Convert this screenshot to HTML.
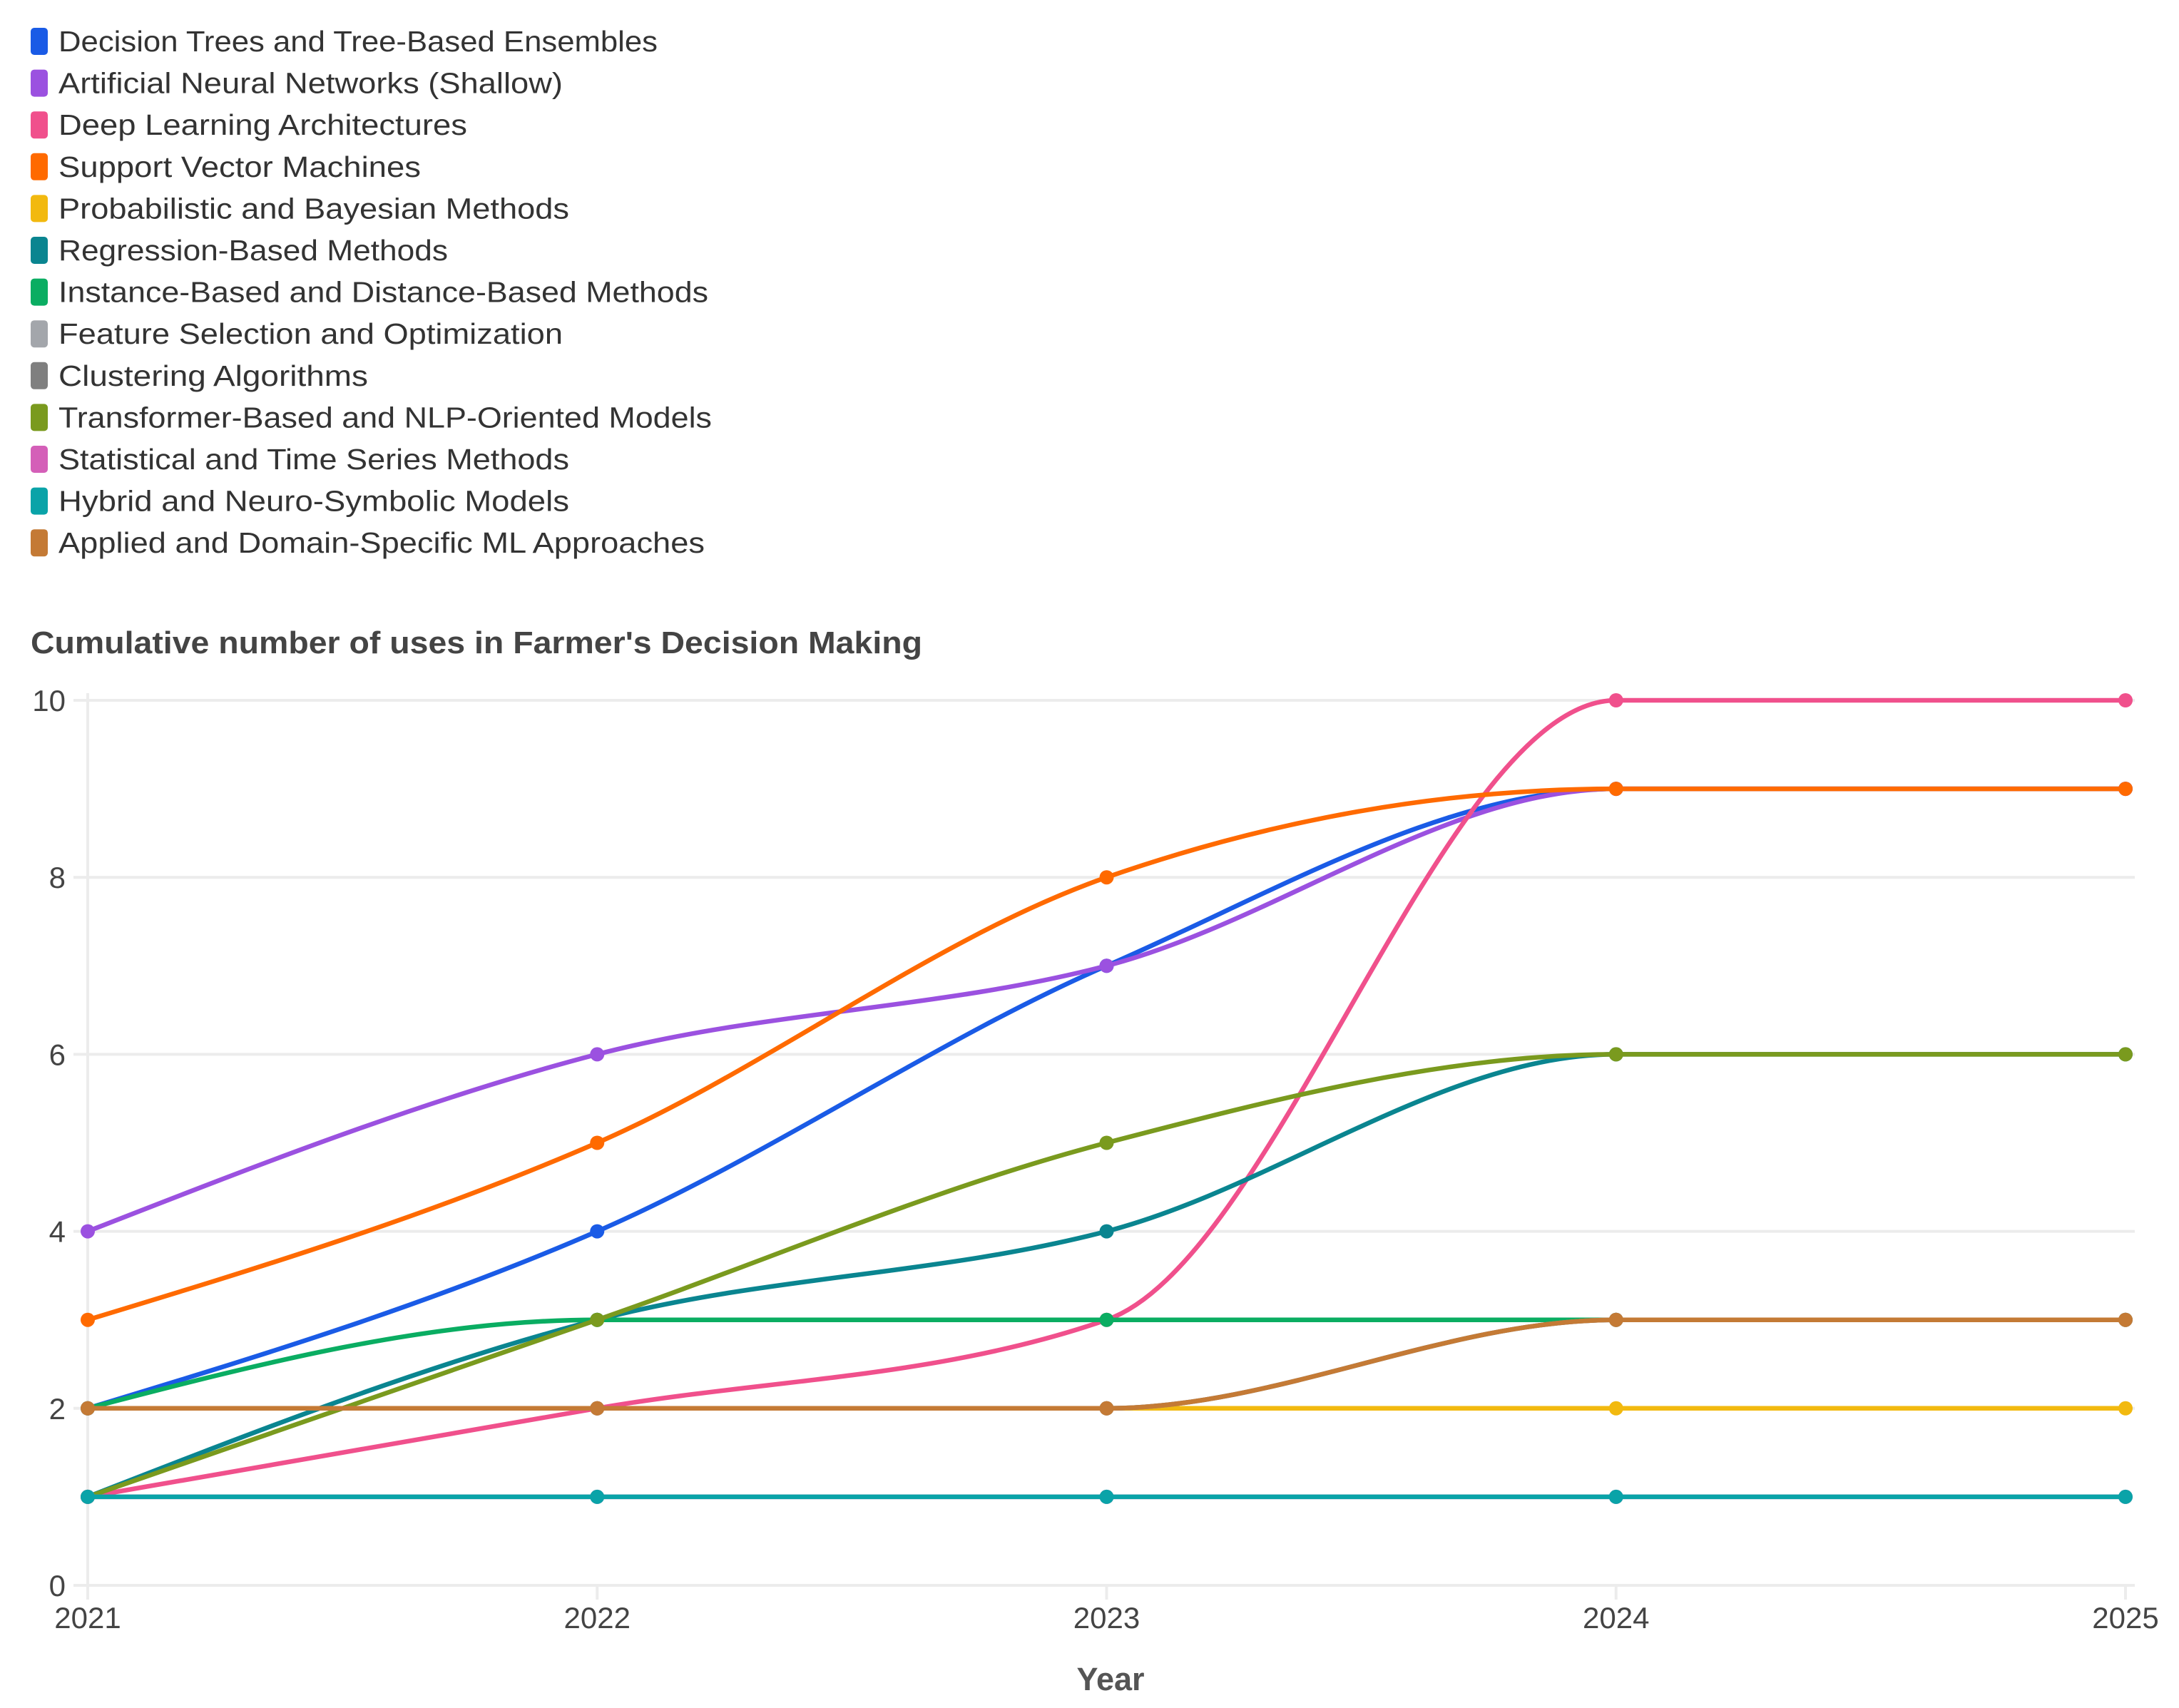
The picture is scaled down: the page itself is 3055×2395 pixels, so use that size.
<!DOCTYPE html>
<html><head><meta charset="utf-8"><style>
html,body{margin:0;padding:0;background:#fff;}
svg{display:block;font-family:"Liberation Sans",sans-serif;}
</style></head><body>
<svg id="chart" width="3055" height="2395" viewBox="0 0 3055 2395" xmlns="http://www.w3.org/2000/svg">
<g id="legend"></g>
<text x="43" y="916" font-size="44" font-weight="bold" fill="#444" textLength="1250" lengthAdjust="spacingAndGlyphs">Cumulative number of uses in Farmer's Decision Making</text>
<g id="grid"></g>
<g id="series"></g>
<text x="1557" y="2370" font-size="45" font-weight="bold" fill="#555" text-anchor="middle">Year</text>
</svg>
<script>
const years = [2021, 2022, 2023, 2024, 2025];
const yTicks = [0, 2, 4, 6, 8, 10];
const seriesNames = ["Decision Trees and Tree-Based Ensembles","Artificial Neural Networks (Shallow)","Deep Learning Architectures","Support Vector Machines","Probabilistic and Bayesian Methods","Regression-Based Methods","Instance-Based and Distance-Based Methods","Feature Selection and Optimization","Clustering Algorithms","Transformer-Based and NLP-Oriented Models","Statistical and Time Series Methods","Hybrid and Neuro-Symbolic Models","Applied and Domain-Specific ML Approaches"];
const seriesColors = ["#1a5be6","#9b51e0","#f0508c","#ff6a00","#f2b90f","#0a8590","#0aad62","#a3a6ab","#7f7f7f","#7a9a1e","#d45fb8","#0aa3a8","#c47a35"];
const decisionTrees = [2,4,7,9,9];
const annShallow = [4,6,7,9,9];
const deepLearning = [1,2,3,10,10];
const svm = [3,5,8,9,9];
const probabilistic = [2,2,2,2,2];
const regression = [1,3,4,6,6];
const instanceBased = [2,3,3,3,3];
const featureSelection = [2,2,2,3,3];
const clustering = [2,2,2,3,3];
const transformer = [1,3,5,6,6];
const statistical = [1,1,1,1,1];
const hybrid = [1,1,1,1,1];
const applied = [2,2,2,3,3];
const seriesValues = [decisionTrees,annShallow,deepLearning,svm,probabilistic,regression,instanceBased,featureSelection,clustering,transformer,statistical,hybrid,applied];
const legendWidths = [840,707,573,508,716,546,911,707,434,916,716,716,906];

const NS="http://www.w3.org/2000/svg";
const X0=123,X1=2980,Y0=2223,Y1=982;
const xScale=y=>X0+(y-years[0])/(years[years.length-1]-years[0])*(X1-X0);
const yScale=v=>Y0-(v-0)/(10-0)*(Y0-Y1);
function mk(tag,attrs,parent){const e=document.createElementNS(NS,tag);for(const k in attrs)e.setAttribute(k,attrs[k]);parent.appendChild(e);return e;}

const grid=document.getElementById('grid');
yTicks.forEach(t=>{
  const l=mk('line',{x1:103,x2:2993,y1:yScale(t),y2:yScale(t),stroke:'#ececec','stroke-width':4},grid);
  
  
  const tx=mk('text',{x:92,y:yScale(t)+15,'font-size':42,fill:'#444','text-anchor':'end'},grid);
  tx.textContent=t;
  
  
});
years.forEach(yr=>{
  const l=mk('line',{x1:xScale(yr),x2:xScale(yr),y1:Y1-10,y2:2243,stroke:'#ececec','stroke-width':4},grid);
  if(yr!==years[0]){l.setAttribute('y1',2223);}
  
  
  const tx=mk('text',{x:xScale(yr),y:2283,'font-size':42,fill:'#444','text-anchor':'middle'},grid);
  tx.textContent=yr;
  
  
});

function monotonePath(pts){
  const n=pts.length;const dx=[],dy=[],m=[];
  for(let i=0;i<n-1;i++){dx.push(pts[i+1][0]-pts[i][0]);dy.push(pts[i+1][1]-pts[i][1]);m.push(dy[i]/dx[i]);}
  const t=new Array(n);
  for(let i=1;i<n-1;i++){
    if(m[i-1]*m[i]<=0)t[i]=0;
    else{const h0=dx[i-1],h1=dx[i];const p=(m[i-1]*h1+m[i]*h0)/(h0+h1);
      t[i]=(Math.sign(m[i-1])+Math.sign(m[i]))*Math.min(Math.abs(m[i-1]),Math.abs(m[i]),0.5*Math.abs(p))||0;}
  }
  t[0]=n>2?(3*m[0]-t[1])/2:m[0];
  if(m[0]===0)t[0]=0;
  t[n-1]=n>2?(3*m[n-2]-t[n-2])/2:m[n-2];
  if(m[n-2]===0)t[n-1]=0;
  let d=`M${pts[0][0]},${pts[0][1]}`;
  for(let i=0;i<n-1;i++){const h=dx[i]/3;
    d+=` C${pts[i][0]+h},${pts[i][1]+h*t[i]} ${pts[i+1][0]-h},${pts[i+1][1]-h*t[i+1]} ${pts[i+1][0]},${pts[i+1][1]}`;}
  return d;
}

const sg=document.getElementById('series');
seriesValues.forEach((vals,si)=>{
  const g=mk('g',{},sg);
  
  
  const pts=vals.map((v,i)=>[xScale(years[i]),yScale(v)]);
  const p=mk('path',{d:monotonePath(pts),fill:'none',stroke:seriesColors[si],'stroke-width':6.5,'stroke-linecap':'round'},g);
  
  
  pts.forEach(pt=>{
    const c=mk('circle',{cx:pt[0],cy:pt[1],r:10,fill:seriesColors[si]},g);
    
    
  });
});

const lg=document.getElementById('legend');
seriesNames.forEach((nm,i)=>{
  const y=58+i*58.6;
  const g=mk('g',{},lg);
  
  
  const r=mk('rect',{x:43,y:y-19,width:24,height:38,rx:5,fill:seriesColors[i]},g);
  
  
  const t=mk('text',{x:82,y:y+14,'font-size':41,fill:'#333',textLength:legendWidths[i],lengthAdjust:'spacingAndGlyphs'},g);
  t.textContent=nm;
  
  
});
</script>
</body></html>
